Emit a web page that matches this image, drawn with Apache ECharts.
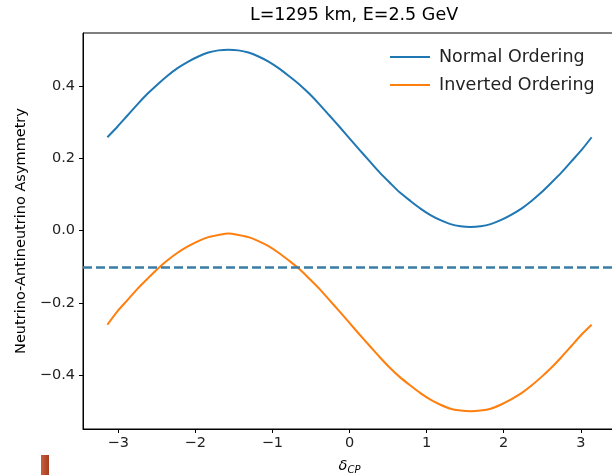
<!DOCTYPE html>
<html>
<head>
<meta charset="utf-8">
<script src="https://cdn.jsdelivr.net/npm/echarts@6/dist/echarts.min.js"></script>
<style>html,body{margin:0;padding:0;background:#fff}#c{width:612px;height:475px}</style>
</head>
<body>
<div id="c"></div>
<script>
const deltaCP = [-3.14,-3.01,-2.88,-2.75,-2.62,-2.49,-2.36,-2.23,-2.09,-1.96,-1.83,-1.70,-1.57,-1.44,-1.31,-1.18,-1.05,-0.92,-0.79,-0.65,-0.52,-0.39,-0.26,-0.13,0,0.13,0.26,0.39,0.52,0.65,0.79,0.92,1.05,1.18,1.31,1.44,1.57,1.70,1.83,1.96,2.09,2.23,2.36,2.49,2.62,2.75,2.88,3.01,3.14];
const normalOrdering = [0.258,0.287,0.318,0.349,0.378,0.404,0.428,0.449,0.467,0.481,0.492,0.498,0.500,0.498,0.492,0.481,0.467,0.449,0.428,0.404,0.378,0.349,0.318,0.287,0.255,0.223,0.192,0.161,0.133,0.106,0.082,0.061,0.043,0.029,0.018,0.012,0.010,0.012,0.018,0.029,0.043,0.061,0.082,0.106,0.133,0.161,0.192,0.223,0.258];
const invertedOrdering = [-0.260,-0.223,-0.192,-0.161,-0.133,-0.106,-0.082,-0.061,-0.043,-0.029,-0.018,-0.012,-0.008,-0.012,-0.018,-0.029,-0.043,-0.061,-0.082,-0.106,-0.133,-0.161,-0.192,-0.223,-0.255,-0.287,-0.318,-0.349,-0.378,-0.404,-0.428,-0.449,-0.467,-0.481,-0.492,-0.497,-0.499,-0.497,-0.492,-0.481,-0.467,-0.449,-0.428,-0.404,-0.378,-0.349,-0.318,-0.287,-0.260];
const refLevel = -0.0955;
const xTicks = [-3,-2,-1,0,1,2,3];
const yTicks = [-0.4,-0.2,0,0.2,0.4];
const titleText = 'L=1295 km, E=2.5 GeV';
const yLabel = 'Neutrino-Antineutrino Asymmetry';

const font = 'DejaVu Sans';
const minus = v => (v < 0 ? '\u2212' : '') + Math.abs(v);
const chart = echarts.init(document.getElementById('c'));
chart.setOption({
  animation: false,
  backgroundColor: '#fff',
  title: {
    text: titleText, left: 349, top: 1, textAlign: 'center',
    textStyle: {fontFamily: font, fontSize: 17.5, fontWeight: 'normal', color: '#000'}
  },
  legend: {
    orient: 'vertical', left: 385, top: 43, itemGap: 10,
    itemWidth: 40, itemHeight: 2, icon: 'rect',
    textStyle: {fontFamily: font, fontSize: 17.5, color: '#222', padding: [0,0,0,4]},
    data: ['Normal Ordering', 'Inverted Ordering']
  },
  grid: {left: 83, top: 33, width: 533, height: 396, outerBoundsMode: 'none', containLabel: false, show: true, borderColor: '#000', borderWidth: 1, backgroundColor: 'transparent'},
  xAxis: {
    type: 'value', min: -3.456, max: 3.456,
    name: '{d|\u03b4}{s|CP}', nameLocation: 'middle', nameGap: 28,
    nameTextStyle: {rich: {d: {fontFamily: font, fontStyle: 'italic', fontSize: 14.5, color: '#000'}, s: {fontFamily: font, fontStyle: 'italic', fontSize: 10, color: '#000', verticalAlign: 'bottom', padding: [8,0,0,0]}}},
    axisLine: {show: true, onZero: false, lineStyle: {color: '#000', width: 1}},
    axisTick: {show: true, length: 4, customValues: xTicks, lineStyle: {color: '#000'}},
    axisLabel: {customValues: xTicks, formatter: v => minus(Math.round(v)), fontFamily: font, fontSize: 14.5, color: '#222', margin: 7},
    splitLine: {show: false}
  },
  yAxis: {
    type: 'value', min: -0.548, max: 0.546,
    name: yLabel, nameLocation: 'middle', nameGap: 53, nameRotate: 90,
    nameTextStyle: {fontFamily: font, fontSize: 14.5, color: '#000'},
    axisLine: {show: true, onZero: false, lineStyle: {color: '#000', width: 1}},
    axisTick: {show: true, length: 4, customValues: yTicks, lineStyle: {color: '#000'}},
    axisLabel: {customValues: yTicks, formatter: v => (v < 0 ? '\u2212' : '') + Math.abs(v).toFixed(1), fontFamily: font, fontSize: 14.5, color: '#222', margin: 8},
    splitLine: {show: false}
  },
  series: [
    {
      name: 'Normal Ordering', type: 'line', smooth: 0.25, showSymbol: false, symbol: 'none',
      color: '#1f77b4', lineStyle: {width: 2, color: '#1f77b4'},
      data: deltaCP.map((x, i) => [x, normalOrdering[i]]),
      markLine: {
        silent: true, symbol: 'none', label: {show: false},
        lineStyle: {type: [9, 4], width: 2.5, color: '#3a7ca5'},
        data: [{yAxis: refLevel}]
      }
    },
    {
      name: 'Inverted Ordering', type: 'line', smooth: 0.25, showSymbol: false, symbol: 'none',
      color: '#ff7f0e', lineStyle: {width: 2, color: '#ff7f0e'},
      data: deltaCP.map((x, i) => [x, invertedOrdering[i]])
    }
  ],
  graphic: [{
    type: 'rect', left: 41, top: 455, shape: {width: 8, height: 20},
    style: {fill: new echarts.graphic.LinearGradient(0, 0, 1, 0, [{offset: 0, color: '#c9603a'}, {offset: 1, color: '#a63c22'}])}
  }]
});
</script>
</body>
</html>
